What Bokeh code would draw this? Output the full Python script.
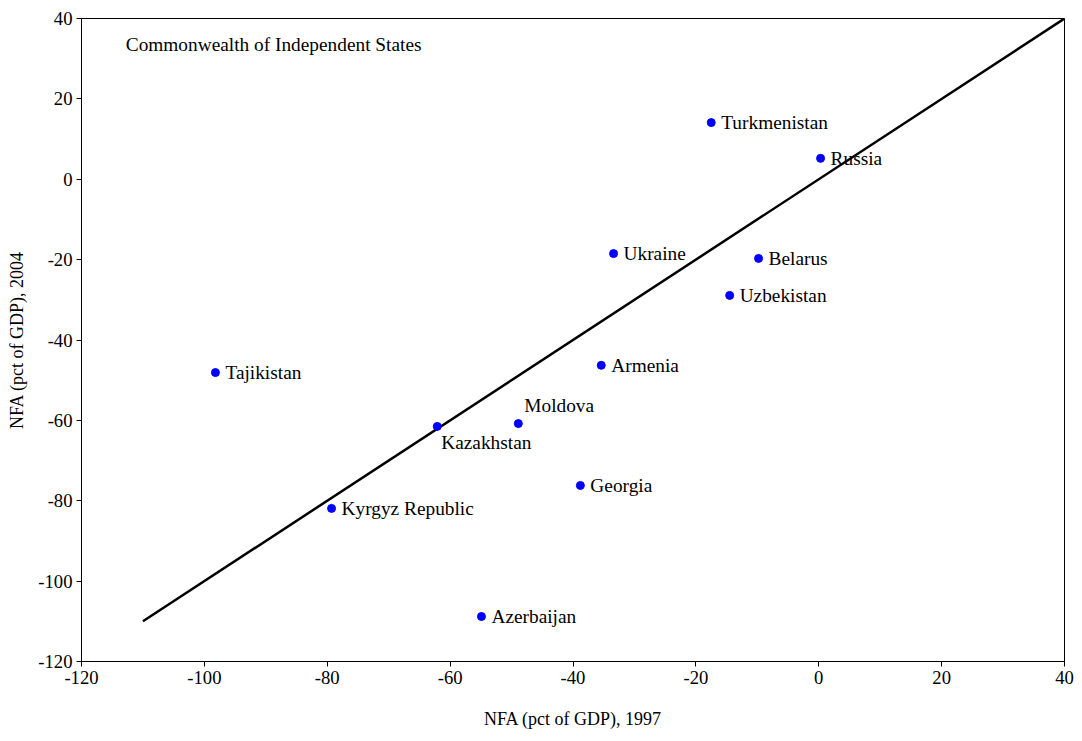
from bokeh.plotting import figure
from bokeh.models import ColumnDataSource, Label, SingleIntervalTicker, PrintfTickFormatter
from bokeh.embed import file_html
from bokeh.resources import INLINE
from bokeh.core.properties import value

countries = ["Turkmenistan", "Russia", "Ukraine", "Belarus", "Uzbekistan", "Armenia",
             "Tajikistan", "Moldova", "Kazakhstan", "Georgia", "Kyrgyz Republic", "Azerbaijan"]
nfa_1997 = [-17.5, 0.3, -33.4, -9.8, -14.5, -35.4, -98.2, -48.9, -62.1, -38.8, -79.3, -54.9]
nfa_2004 = [14.1, 5.2, -18.5, -19.7, -28.9, -46.3, -48.1, -60.8, -61.5, -76.2, -81.9, -108.8]
line_x = [-110, 40]
line_y = [-110, 40]

FONT = "Liberation Serif"

p = figure(width=1074, height=733, output_backend="svg", toolbar_location=None,
           x_range=(-120, 40), y_range=(-120, 40),
           x_axis_label="NFA (pct of GDP), 1997", y_axis_label="NFA (pct of GDP), 2004",
           min_border_left=81, min_border_right=10, min_border_top=18, min_border_bottom=72)
p.xgrid.visible = False
p.ygrid.visible = False
p.outline_line_color = "black"
p.outline_line_width = 1
p.background_fill_color = "white"

for ax in (p.xaxis, p.yaxis):
    ax.ticker = SingleIntervalTicker(interval=20)
    ax.formatter = PrintfTickFormatter(format="%d")
    ax.axis_line_color = "black"
    ax.major_tick_line_color = "black"
    ax.minor_tick_line_color = None
    ax.major_label_text_font = FONT
    ax.major_label_text_font_size = "14pt"
    ax.major_label_text_color = "black"
    ax.axis_label_text_font = FONT
    ax.axis_label_text_font_size = "13.5pt"
    ax.axis_label_text_font_style = "normal"
    ax.axis_label_text_color = "black"
    ax.major_tick_in = 0
    ax.major_tick_out = 5
    ax.major_label_standoff = 4
    ax.axis_label_standoff = 8
p.xaxis.axis_label_standoff = 22

p.line(line_x, line_y, line_width=2.5, color="black")

xoff = [10] * len(countries)
yoff = [0] * len(countries)
i = countries.index("Moldova"); xoff[i] = 6; yoff[i] = -18
i = countries.index("Kazakhstan"); xoff[i] = 4; yoff[i] = 16
src = ColumnDataSource(dict(x=nfa_1997, y=nfa_2004, name=countries, xo=xoff, yo=yoff))
p.scatter("x", "y", source=src, size=8, color="#0000ff")
p.text("x", "y", text="name", source=src, x_offset="xo", y_offset="yo",
       text_font=value(FONT), text_font_size="14.5pt", text_baseline="middle",
       text_color="black")

p.add_layout(Label(x=-112.8, y=31, text="Commonwealth of Independent States",
                   text_font=FONT, text_font_size="14.5pt", text_color="black"))

open("out.html", "w").write(file_html(p, INLINE))
